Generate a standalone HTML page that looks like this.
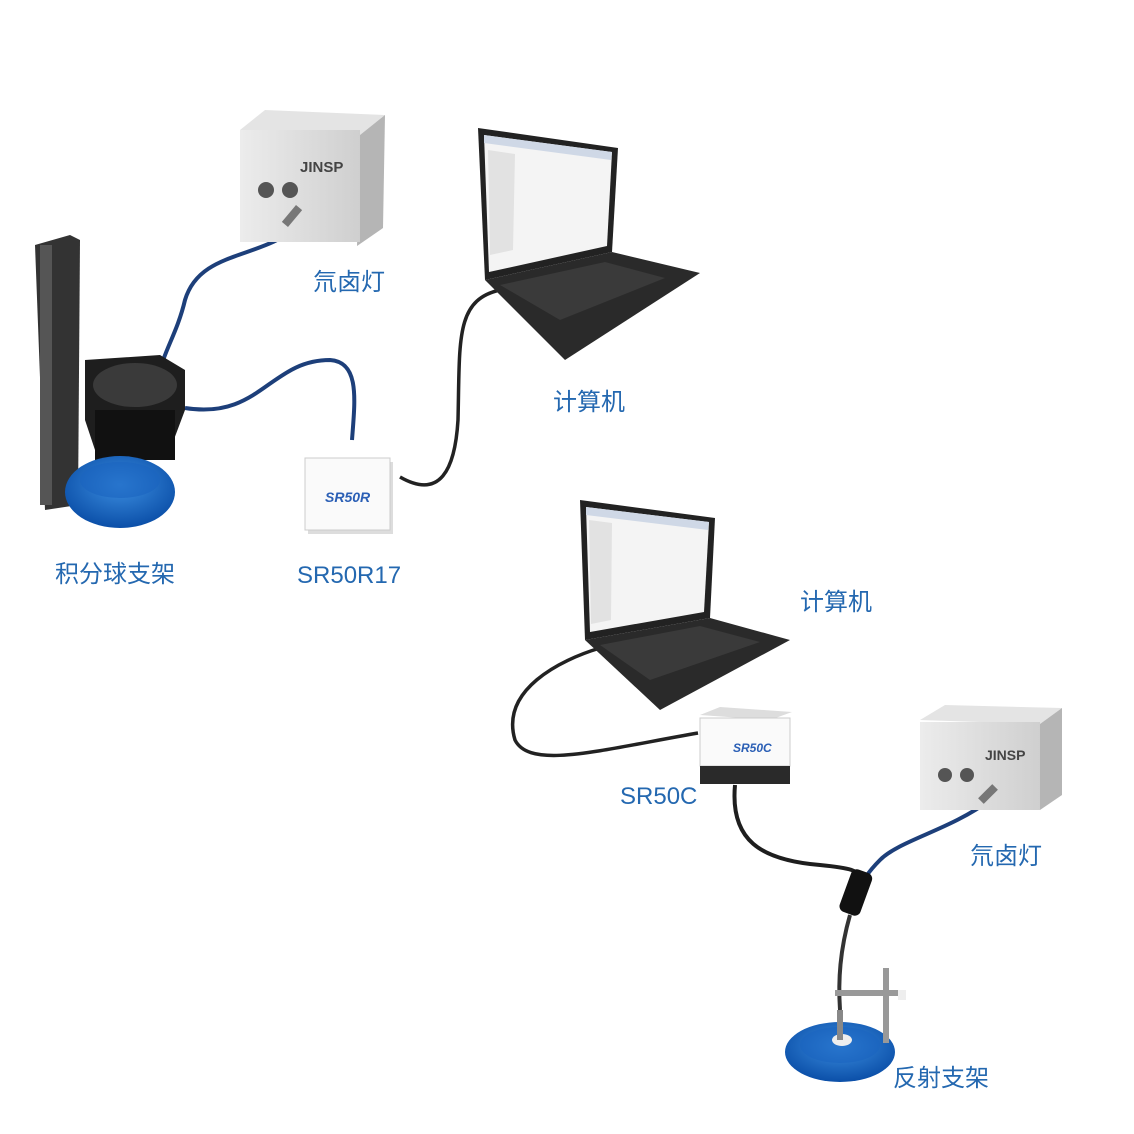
<!DOCTYPE html>
<html><head><meta charset="utf-8"><style>
html,body{margin:0;padding:0;background:#fff;}
svg{display:block}
text{font-family:"Liberation Sans","Noto Sans CJK SC",sans-serif;fill:#2468b0;font-size:24px}
</style></head><body>
<svg width="1134" height="1134" viewBox="0 0 1134 1134" xmlns="http://www.w3.org/2000/svg">
<defs>
<linearGradient id="lampF" x1="0" x2="1"><stop offset="0" stop-color="#ececec"/><stop offset="1" stop-color="#cfcfcf"/></linearGradient>
<radialGradient id="blue" cx="0.5" cy="0.4" r="0.6"><stop offset="0" stop-color="#3c8ee0"/><stop offset="1" stop-color="#0b4fa8"/></radialGradient>
</defs>
<rect width="1134" height="1134" fill="#fff"/>

<path d="M300 225 C260 260 200 250 185 300 C178 330 165 350 160 370" stroke="#1d3f7a" stroke-width="4" fill="none"/>
<path d="M185 408 C260 420 270 360 330 360 C360 362 355 400 352 440" stroke="#1d3f7a" stroke-width="4" fill="none"/>
<path d="M400 477 C440 500 455 470 458 420 C460 340 455 300 500 290" stroke="#222" stroke-width="3.5" fill="none"/>

<polygon points="240,130 265,110 385,115 360,135" fill="#e4e4e4"/>
<polygon points="360,135 385,115 383,228 357,246" fill="#b5b5b5"/>
<rect x="240" y="130" width="120" height="112" fill="url(#lampF)"/>
<text x="300" y="172" style="font-size:15px;fill:#444;font-weight:bold">JINSP</text>
<circle cx="266" cy="190" r="8" fill="#555"/><circle cx="290" cy="190" r="8" fill="#555"/>
<rect x="288" y="205" width="8" height="22" fill="#777" transform="rotate(40 292 216)"/>
<text x="313" y="290">氘卤灯</text>

<polygon points="478,128 618,148 612,252 485,280" fill="#222"/>
<polygon points="484,135 612,152 607,246 489,272" fill="#f4f4f4"/>
<polygon points="484,135 612,152 611,160 484,143" fill="#cfd8e6"/>
<polygon points="488,150 515,154 513,250 490,255" fill="#e2e2e2"/>
<polygon points="485,280 612,252 700,273 565,360" fill="#2a2a2a"/>
<polygon points="500,285 605,262 665,278 560,320" fill="#3a3a3a"/>
<text x="553" y="410">计算机</text>

<polygon points="35,245 70,235 80,240 78,505 45,510" fill="#333"/>
<rect x="40" y="245" width="12" height="260" fill="#555"/>
<polygon points="85,360 160,355 185,370 185,410 170,450 95,450 85,420" fill="#1e1e1e"/>
<ellipse cx="135" cy="385" rx="42" ry="22" fill="#3a3a3a"/>
<rect x="95" y="410" width="80" height="50" fill="#111"/>
<ellipse cx="120" cy="492" rx="55" ry="36" fill="url(#blue)"/>
<ellipse cx="120" cy="480" rx="40" ry="18" fill="#1a64c0" opacity="0.6"/>
<text x="55" y="582">积分球支架</text>

<rect x="308" y="462" width="85" height="72" fill="#ddd"/>
<rect x="305" y="458" width="85" height="72" fill="#fafafa" stroke="#ccc"/>
<text x="325" y="502" style="font-size:14px;font-weight:bold;font-style:italic;fill:#2b5fb5">SR50R</text>
<text x="297" y="583">SR50R17</text>

<path d="M600 648 C560 660 500 690 515 740 C530 770 600 750 698 733" stroke="#222" stroke-width="3.5" fill="none"/>
<path d="M735 785 C730 840 760 860 820 865 C850 868 860 870 860 880" stroke="#1e1e1e" stroke-width="4" fill="none"/>
<path d="M990 800 C950 830 900 840 880 860 C870 870 862 880 860 890" stroke="#1d3f7a" stroke-width="4" fill="none"/>
<rect x="845" y="870" width="22" height="45" rx="6" fill="#111" transform="rotate(20 856 892)"/>
<path d="M850 915 C840 950 838 980 840 1010" stroke="#333" stroke-width="4" fill="none"/>

<polygon points="580,500 715,518 710,618 585,640" fill="#222"/>
<polygon points="586,507 709,522 704,612 590,632" fill="#f4f4f4"/>
<polygon points="586,507 709,522 708,530 586,515" fill="#cfd8e6"/>
<polygon points="589,520 612,523 611,620 591,624" fill="#e2e2e2"/>
<polygon points="585,640 710,618 790,640 660,710" fill="#2a2a2a"/>
<polygon points="600,645 700,626 760,642 650,680" fill="#3a3a3a"/>
<text x="800" y="610">计算机</text>

<polygon points="700,715 720,707 792,712 770,720" fill="#ddd"/>
<rect x="700" y="718" width="90" height="48" fill="#fafafa" stroke="#ccc"/>
<rect x="700" y="766" width="90" height="18" fill="#2a2a2a"/>
<text x="733" y="752" style="font-size:12px;font-weight:bold;font-style:italic;fill:#2b5fb5">SR50C</text>
<text x="620" y="804">SR50C</text>

<polygon points="920,720 945,705 1062,708 1040,724" fill="#e4e4e4"/>
<polygon points="1040,724 1062,708 1062,795 1040,810" fill="#b5b5b5"/>
<rect x="920" y="722" width="120" height="88" fill="url(#lampF)"/>
<text x="985" y="760" style="font-size:14px;fill:#444;font-weight:bold">JINSP</text>
<circle cx="945" cy="775" r="7" fill="#555"/><circle cx="967" cy="775" r="7" fill="#555"/>
<rect x="984" y="784" width="8" height="20" fill="#777" transform="rotate(45 988 794)"/>
<text x="970" y="864">氘卤灯</text>

<ellipse cx="840" cy="1052" rx="55" ry="30" fill="url(#blue)"/>
<ellipse cx="840" cy="1045" rx="40" ry="18" fill="#1a64c0" opacity="0.6"/>
<ellipse cx="842" cy="1040" rx="10" ry="6" fill="#eee"/>
<rect x="883" y="968" width="6" height="75" fill="#999"/>
<rect x="835" y="990" width="70" height="6" fill="#999"/>
<rect x="898" y="990" width="8" height="10" fill="#eee"/>
<rect x="837" y="1010" width="6" height="30" fill="#888"/>
<text x="893" y="1086">反射支架</text>
</svg>
</body></html>
